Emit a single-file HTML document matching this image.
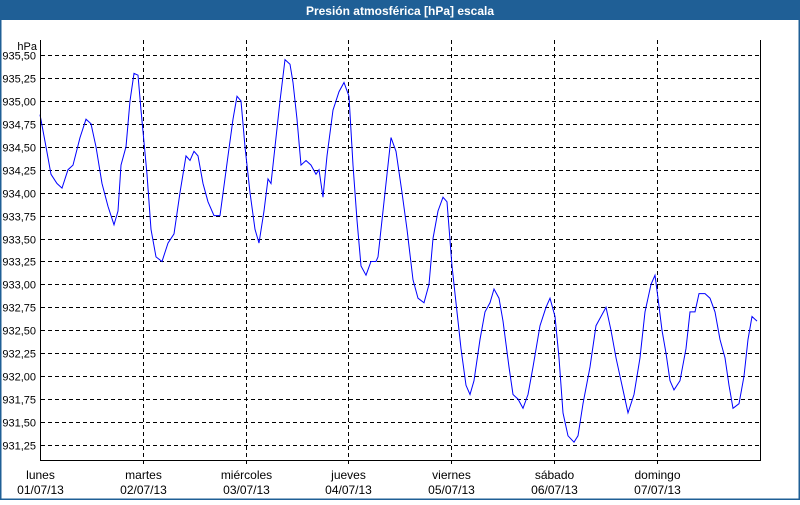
<!DOCTYPE html>
<html><head><meta charset="utf-8"><style>
html,body{margin:0;padding:0;background:#fff;}
body{width:800px;height:500px;overflow:hidden;font-family:"Liberation Sans",sans-serif;}
</style></head><body>
<svg width="800" height="500" xmlns="http://www.w3.org/2000/svg" font-family="Liberation Sans, sans-serif">
<rect x="0" y="0" width="800" height="500" fill="#fff"/>
<rect x="0.5" y="0.5" width="799" height="499" fill="none" stroke="#1f5f96" stroke-width="2"/>
<rect x="0" y="0" width="800" height="20" fill="#1f5f96"/>
<text x="400" y="15" text-anchor="middle" font-size="12" font-weight="bold" fill="#fff">Presión atmosférica [hPa] escala</text>
<g id="grid" stroke="#000" stroke-dasharray="4,3" stroke-width="1"></g>
<g id="ylab" font-size="11" fill="#000" text-anchor="end"></g>
<text x="37" y="50" font-size="11" text-anchor="end">hPa</text>
<polyline id="ln" fill="none" stroke="#0000ff" stroke-width="1"/>
<line x1="40.5" y1="40" x2="40.5" y2="461" stroke="#000"/>
<line x1="40" y1="460.5" x2="761" y2="460.5" stroke="#000"/>
<line x1="760.5" y1="40" x2="760.5" y2="461" stroke="#000"/>
<g id="xlab" font-size="12" fill="#000" text-anchor="middle"></g>
</svg>
<script>
var ns="http://www.w3.org/2000/svg";
function Y(v){return 55+(935.5-v)*91.76;}
var g=document.getElementById('grid'),yl=document.getElementById('ylab'),xl=document.getElementById('xlab');
for(var i=0;i<=17;i++){var v=935.5-i*0.25,y=Math.round(Y(v))+0.5;
var l=document.createElementNS(ns,'line');l.setAttribute('x1',41);l.setAttribute('x2',760);l.setAttribute('y1',y);l.setAttribute('y2',y);g.appendChild(l);
var t=document.createElementNS(ns,'text');t.setAttribute('x',36);t.setAttribute('y',y+4);t.textContent=v.toFixed(2).replace('.',',');yl.appendChild(t);}
var days=[["lunes","01/07/13"],["martes","02/07/13"],["miércoles","03/07/13"],["jueves","04/07/13"],["viernes","05/07/13"],["sábado","06/07/13"],["domingo","07/07/13"]];
for(var d=0;d<7;d++){var x=Math.round(40+d*102.8)+0.5;
if(d>0){var l=document.createElementNS(ns,'line');l.setAttribute('x1',x);l.setAttribute('x2',x);l.setAttribute('y1',40);l.setAttribute('y2',466);g.appendChild(l);}
var t1=document.createElementNS(ns,'text');t1.setAttribute('x',x);t1.setAttribute('y',479);t1.textContent=days[d][0];xl.appendChild(t1);
var t2=document.createElementNS(ns,'text');t2.setAttribute('x',x);t2.setAttribute('y',494);t2.textContent=days[d][1];xl.appendChild(t2);}
var p=[40,934.85,46,934.5,51,934.2,57,934.1,62,934.05,68,934.25,73,934.3,80,934.6,86,934.8,91,934.75,96,934.5,102,934.1,108,933.85,114,933.65,118,933.8,121,934.3,126,934.5,130,935.0,134,935.3,138,935.28,141,934.9,147,934.2,151,933.6,156,933.3,162,933.25,168,933.45,174,933.55,180,934.0,186,934.4,190,934.35,194,934.45,198,934.4,203,934.1,208,933.9,214,933.75,220,933.75,228,934.4,233,934.8,237,935.05,241,935.0,245,934.5,250,934.0,255,933.6,259,933.45,264,933.8,268,934.15,271,934.1,275,934.5,280,935.0,285,935.45,290,935.4,293,935.2,297,934.8,301,934.3,306,934.35,311,934.3,316,934.2,319,934.25,323,933.95,327,934.4,333,934.9,339,935.1,344,935.2,349,935.05,353,934.3,357,933.7,361,933.2,366,933.1,371,933.25,376,933.25,378,933.3,384,933.9,391,934.6,396,934.45,402,934.0,407,933.6,413,933.05,418,932.85,424,932.8,429,933.0,433,933.5,438,933.8,443,933.95,447,933.9,452,933.2,457,932.7,461,932.3,466,931.9,470,931.8,474,931.95,480,932.4,485,932.7,490,932.8,494,932.95,499,932.85,503,932.6,509,932.1,513,931.8,518,931.75,523,931.65,528,931.8,533,932.1,540,932.55,546,932.75,550,932.85,555,932.65,559,932.2,563,931.6,568,931.35,574,931.28,578,931.35,583,931.7,590,932.1,596,932.55,601,932.65,606,932.75,611,932.5,616,932.2,620,932.0,625,931.75,628,931.6,634,931.8,640,932.2,645,932.7,651,933.0,655,933.1,658,932.85,662,932.5,666,932.25,670,931.95,674,931.85,680,931.95,686,932.3,690,932.7,695,932.7,699,932.9,705,932.9,710,932.85,715,932.7,720,932.4,725,932.2,729,931.9,733,931.65,739,931.7,744,932.0,748,932.4,752,932.65,757,932.6];
var s=[];for(var i=0;i<p.length;i+=2)s.push(p[i]+','+Y(p[i+1]).toFixed(1));
document.getElementById('ln').setAttribute('points',s.join(' '));
</script>
</body></html>
